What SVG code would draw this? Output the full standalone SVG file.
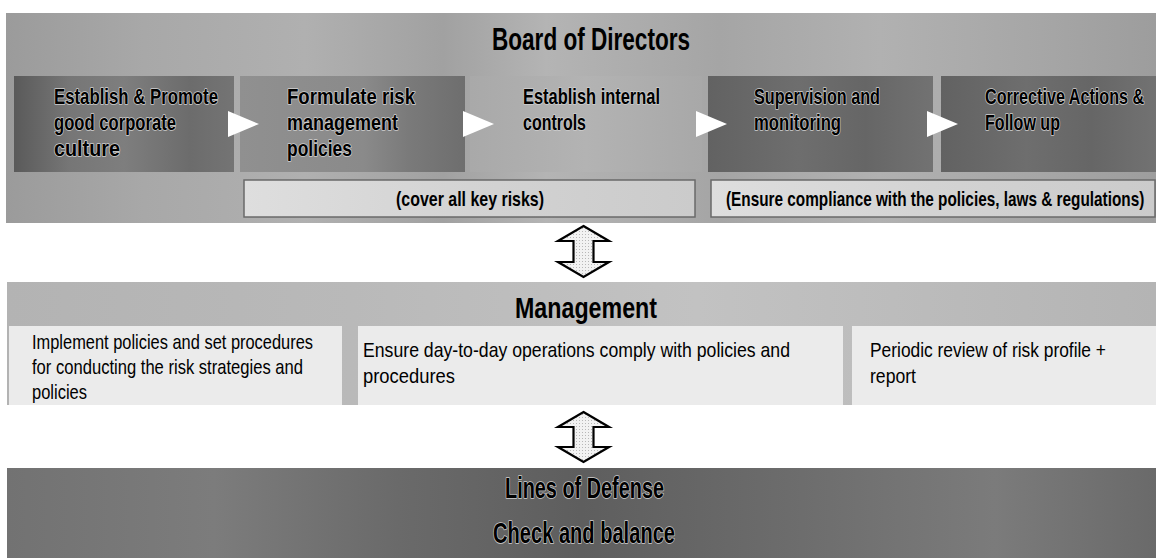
<svg xmlns="http://www.w3.org/2000/svg" width="1156" height="558" viewBox="0 0 1156 558">
  <style>
    .title { font-family: "Liberation Sans", Arial, sans-serif; font-weight: bold; fill: #000; }
    .step { font-family: "Liberation Sans", Arial, sans-serif; font-weight: bold; font-size: 22px; fill: #000; }
    .halo { stroke: #cfcfcf; stroke-width: 1.6px; paint-order: stroke; stroke-linejoin: round; }
    .note { font-family: "Liberation Sans", Arial, sans-serif; font-weight: bold; font-size: 21px; fill: #000; }
    .body { font-family: "Liberation Sans", Arial, sans-serif; font-size: 21px; fill: #000; }
    .sub { stroke: #6a6a6a; stroke-width: 1.5; }
    .mbox { fill: #ebebeb; }
    .tri { fill: #ffffff; }
    .dbl { fill: url(#gShaft); stroke: #000; stroke-width: 2.2; stroke-linejoin: miter; }
  </style>
  <defs>
    <linearGradient id="gBoard" x1="0" y1="0" x2="1" y2="0">
      <stop offset="0" stop-color="#9b9b9b"/>
      <stop offset="0.12" stop-color="#a8a8a8"/>
      <stop offset="0.26" stop-color="#b0b0b0"/>
      <stop offset="0.38" stop-color="#a1a1a1"/>
      <stop offset="0.47" stop-color="#b4b4b4"/>
      <stop offset="0.62" stop-color="#a5a5a5"/>
      <stop offset="0.76" stop-color="#b1b1b1"/>
      <stop offset="0.9" stop-color="#a6a6a6"/>
      <stop offset="1" stop-color="#9d9d9d"/>
    </linearGradient>
    <linearGradient id="gDark1" x1="0" y1="0" x2="1" y2="0">
      <stop offset="0" stop-color="#5a5a5a"/>
      <stop offset="0.25" stop-color="#767676"/>
      <stop offset="0.5" stop-color="#7e7e7e"/>
      <stop offset="0.8" stop-color="#6c6c6c"/>
      <stop offset="1" stop-color="#747474"/>
    </linearGradient>
    <linearGradient id="gMid" x1="0" y1="0" x2="1" y2="0">
      <stop offset="0" stop-color="#909090"/>
      <stop offset="0.55" stop-color="#8a8a8a"/>
      <stop offset="0.75" stop-color="#7a7a7a"/>
      <stop offset="1" stop-color="#6e6e6e"/>
    </linearGradient>
    <linearGradient id="gLight" x1="0" y1="0" x2="1" y2="0">
      <stop offset="0" stop-color="#a9a9a9"/>
      <stop offset="0.5" stop-color="#b3b3b3"/>
      <stop offset="1" stop-color="#a8a8a8"/>
    </linearGradient>
    <linearGradient id="gDark2" x1="0" y1="0" x2="1" y2="0">
      <stop offset="0" stop-color="#626262"/>
      <stop offset="0.4" stop-color="#6e6e6e"/>
      <stop offset="0.7" stop-color="#666666"/>
      <stop offset="1" stop-color="#727272"/>
    </linearGradient>
    <linearGradient id="gSub" x1="0" y1="0" x2="1" y2="0">
      <stop offset="0" stop-color="#dedede"/>
      <stop offset="0.5" stop-color="#d3d3d3"/>
      <stop offset="1" stop-color="#cbcbcb"/>
    </linearGradient>
    <linearGradient id="gMgmt" x1="0" y1="0" x2="1" y2="0">
      <stop offset="0" stop-color="#b3b3b3"/>
      <stop offset="0.3" stop-color="#b9b9b9"/>
      <stop offset="0.6" stop-color="#c2c2c2"/>
      <stop offset="1" stop-color="#b4b4b4"/>
    </linearGradient>
    <linearGradient id="gDefense" x1="0" y1="0" x2="1" y2="0">
      <stop offset="0" stop-color="#727272"/>
      <stop offset="0.18" stop-color="#7c7c7c"/>
      <stop offset="0.34" stop-color="#6a6a6a"/>
      <stop offset="0.5" stop-color="#5e5e5e"/>
      <stop offset="0.68" stop-color="#6c6c6c"/>
      <stop offset="0.86" stop-color="#7b7b7b"/>
      <stop offset="1" stop-color="#6a6a6a"/>
    </linearGradient>
    <pattern id="gShaft" width="3" height="3" patternUnits="userSpaceOnUse">
      <rect width="3" height="3" fill="#f2f2f2"/>
      <rect width="1" height="1" fill="#b8b8b8"/>
    </pattern>
  </defs>

  <rect width="1156" height="558" fill="#ffffff"/>

  <!-- Board of Directors band -->
  <g id="board">
    <rect x="6" y="13" width="1150" height="210" fill="url(#gBoard)"/>
    <text class="title" x="492" y="50" font-size="32" textLength="198" lengthAdjust="spacingAndGlyphs">Board of Directors</text>
  </g>

  <g id="step-culture">
    <rect x="14" y="76" width="220" height="96" fill="url(#gDark1)"/>
    <text class="step halo" x="54" y="104" textLength="164" lengthAdjust="spacingAndGlyphs">Establish &amp; Promote</text>
    <text class="step halo" x="54" y="130" textLength="122" lengthAdjust="spacingAndGlyphs">good corporate</text>
    <text class="step halo" x="54" y="156" textLength="66" lengthAdjust="spacingAndGlyphs">culture</text>
  </g>

  <g id="step-policies">
    <rect x="240" y="76" width="225" height="96" fill="url(#gMid)"/>
    <text class="step halo" x="287" y="104" textLength="128" lengthAdjust="spacingAndGlyphs">Formulate risk</text>
    <text class="step halo" x="287" y="130" textLength="111" lengthAdjust="spacingAndGlyphs">management</text>
    <text class="step halo" x="287" y="156" textLength="65" lengthAdjust="spacingAndGlyphs">policies</text>
  </g>

  <g id="step-controls">
    <rect x="470" y="76" width="232" height="96" fill="url(#gLight)"/>
    <text class="step halo" x="523" y="104" textLength="137" lengthAdjust="spacingAndGlyphs">Establish internal</text>
    <text class="step halo" x="523" y="130" textLength="63" lengthAdjust="spacingAndGlyphs">controls</text>
  </g>

  <g id="step-supervision">
    <rect x="708" y="76" width="225" height="96" fill="url(#gDark2)"/>
    <text class="step halo" x="754" y="104" textLength="126" lengthAdjust="spacingAndGlyphs">Supervision and</text>
    <text class="step halo" x="754" y="130" textLength="87" lengthAdjust="spacingAndGlyphs">monitoring</text>
  </g>

  <g id="step-corrective">
    <rect x="941" y="76" width="215" height="96" fill="url(#gDark2)"/>
    <!-- condensed horizontally so the long line stays inside the box -->
    <g transform="translate(985,104) scale(0.73,1)">
      <text class="step halo" x="0" y="0" textLength="218" lengthAdjust="spacingAndGlyphs">Corrective Actions &amp;</text>
    </g>
    <text class="step halo" x="985" y="130" textLength="75" lengthAdjust="spacingAndGlyphs">Follow up</text>
  </g>

  <g id="note-risks">
    <rect class="sub" x="244" y="180" width="451" height="37" fill="url(#gSub)"/>
    <text class="note" x="396" y="206" textLength="148" lengthAdjust="spacingAndGlyphs">(cover all key risks)</text>
  </g>

  <g id="note-compliance">
    <rect class="sub" x="711" y="180" width="444" height="37" fill="url(#gSub)"/>
    <g transform="translate(726,206) scale(0.73,1)">
      <text class="note" x="0" y="0" textLength="573" lengthAdjust="spacingAndGlyphs">(Ensure compliance with the policies, laws &amp; regulations)</text>
    </g>
  </g>

  <!-- Management band -->
  <g id="management">
    <rect x="7" y="282" width="1149" height="123" fill="url(#gMgmt)"/>
    <text class="title" x="515" y="318" font-size="29" textLength="142" lengthAdjust="spacingAndGlyphs">Management</text>
  </g>

  <g id="mgmt-implement">
    <rect class="mbox" x="9" y="326" width="333" height="79"/>
    <text class="body" x="32" y="349" textLength="281" lengthAdjust="spacingAndGlyphs">Implement policies and set procedures</text>
    <text class="body" x="32" y="374" textLength="271" lengthAdjust="spacingAndGlyphs">for conducting the risk strategies and</text>
    <text class="body" x="32" y="399" textLength="55" lengthAdjust="spacingAndGlyphs">policies</text>
  </g>

  <g id="mgmt-operations">
    <rect class="mbox" x="358" y="326" width="485" height="79"/>
    <text class="body" x="363" y="357" textLength="427" lengthAdjust="spacingAndGlyphs">Ensure day-to-day operations comply with policies and</text>
    <text class="body" x="363" y="383" textLength="92" lengthAdjust="spacingAndGlyphs">procedures</text>
  </g>

  <g id="mgmt-review">
    <rect class="mbox" x="852" y="326" width="304" height="79"/>
    <text class="body" x="870" y="357" textLength="236" lengthAdjust="spacingAndGlyphs">Periodic review of risk profile +</text>
    <text class="body" x="870" y="383" textLength="46" lengthAdjust="spacingAndGlyphs">report</text>
  </g>

  <!-- Lines of Defense band -->
  <g id="defense">
    <rect x="7" y="468" width="1149" height="90" fill="url(#gDefense)"/>
    <text class="title halo" x="505" y="498" font-size="29" textLength="159" lengthAdjust="spacingAndGlyphs">Lines of Defense</text>
    <text class="title halo" x="493" y="543" font-size="29" textLength="182" lengthAdjust="spacingAndGlyphs">Check and balance</text>
  </g>

  <!-- Connectors: process arrows and two-way links between tiers -->
  <g id="connectors">
    <path class="tri" d="M228,111 L259,124 L228,137 Z"/>
    <path class="tri" d="M463,111 L494,124 L463,137 Z"/>
    <path class="tri" d="M696,111 L727,124 L696,137 Z"/>
    <path class="tri" d="M927,111 L958,124 L927,137 Z"/>
    <path class="dbl" d="M583.5,226 L609,241 L593.5,241 L593.5,262 L609,262 L583.5,277 L558,262 L573.5,262 L573.5,241 L558,241 Z"/>
    <path class="dbl" d="M583.5,412 L609,427 L593.5,427 L593.5,447 L609,447 L583.5,462 L558,447 L573.5,447 L573.5,427 L558,427 Z"/>
  </g>
</svg>
